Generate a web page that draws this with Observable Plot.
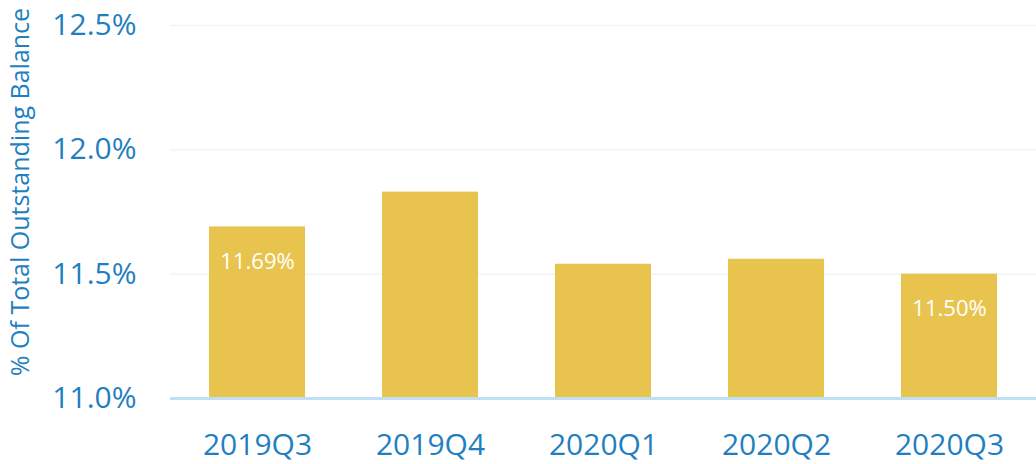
<!DOCTYPE html>
<html><head><meta charset="utf-8">
<script src="https://cdn.jsdelivr.net/npm/d3@7"></script>
<script src="https://cdn.jsdelivr.net/npm/@observablehq/plot@0.6"></script>
<style>body{margin:0;background:#fff;}</style>
</head><body><div id="chart"></div>
<script>
const quarters = ["2019Q3", "2019Q4", "2020Q1", "2020Q2", "2020Q3"];
const values = [11.69, 11.83, 11.54, 11.56, 11.50];
const valueLabels = ["11.69%", "", "", "", "11.50%"];
const yTicks = [11.0, 11.5, 12.0, 12.5];
const yTickLabels = ["11.0%", "11.5%", "12.0%", "12.5%"];
const yTitle = "% Of Total Outstanding Balance";

const data = quarters.map((q, i) => ({q, v: values[i], label: valueLabels[i]}));
const blue = "#1f7fc0";

const chart = Plot.plot({
  width: 1036,
  height: 464,
  marginLeft: 170,
  marginRight: 0,
  marginTop: 25,
  marginBottom: 66,
  style: {fontFamily: "'Open Sans', sans-serif", color: blue, background: "#fff"},
  x: {domain: quarters, range: [169.5, 1037.5], paddingInner: 0.443, paddingOuter: 0.2215},
  y: {domain: [11, 12.5]},
  marks: [
    Plot.ruleY(yTicks.slice(1), {stroke: "#edf5fb", strokeWidth: 1.5}),
    Plot.barY(data, {x: "q", y1: 11, y2: "v", fill: "#e8c44e"}),
    Plot.ruleY([yTicks[0]], {stroke: "#bfe0f4", strokeWidth: 3}),
    Plot.text(data.filter(d => d.label), {x: "q", y: "v", text: "label", dy: 35, fill: "white", fontSize: 22}),
    Plot.axisX({tickSize: 0, tickPadding: 35, fontSize: 30, label: null}),
    Plot.axisY({ticks: yTicks, tickFormat: d => yTickLabels[yTicks.indexOf(d)], tickSize: 0, tickPadding: 34, fontSize: 30, label: null}),
    Plot.text([yTitle], {frameAnchor: "left", textAnchor: "middle", lineAnchor: "middle", rotate: -90, dx: -150, dy: -20, fontSize: 25, fill: blue})
  ]
});
document.getElementById("chart").appendChild(chart);
</script>
</body></html>
